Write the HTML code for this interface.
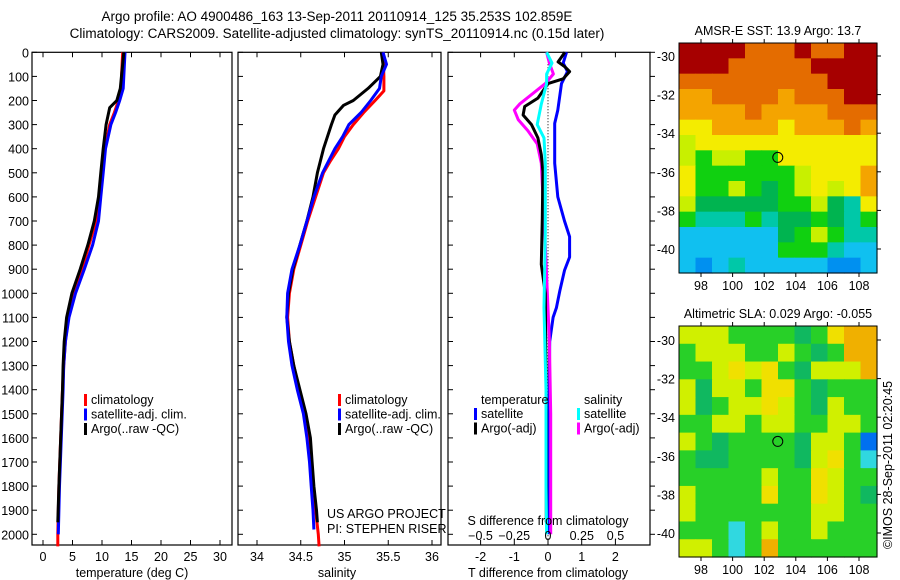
<!DOCTYPE html>
<html><head><meta charset="utf-8"><style>
body{margin:0;background:#fff}
svg{display:block;font-family:"Liberation Sans",sans-serif}
</style></head><body>
<svg id="fig" width="900" height="580" viewBox="0 0 900 580" xmlns="http://www.w3.org/2000/svg">
<text x="337" y="21" font-size="13.5" text-anchor="middle">Argo profile: AO 4900486_163 13-Sep-2011 20110914_125 35.253S 102.859E</text>
<text x="337" y="38" font-size="13.5" text-anchor="middle">Climatology: CARS2009. Satellite-adjusted climatology: synTS_20110914.nc (0.15d later)</text>
<g id="g"></g>
</svg>
<script>
// ---- data ----
const tArgoD=[0,150,200,230,300,400,500,600,700,800,900,1000,1100,1200,1300,1400,1600,1800,1950];
const tArgoV=[13.7,13.1,12.5,11.3,10.7,10.2,9.8,9.4,8.7,7.6,6.3,4.9,4.0,3.6,3.4,3.3,3.0,2.7,2.5];
const tClimD=[0,100,150,200,250,300,400,500,600,700,800,900,1000,1100,1200,1300,1400,1600,1800,2000,2050];
const tClimV=[13.5,13.3,13.4,12.8,12.1,11.3,10.5,10.0,9.6,9.0,7.8,6.6,5.2,4.3,3.8,3.5,3.3,3.0,2.7,2.5,2.5];
const tSatD=[0,100,150,200,250,300,400,500,600,700,800,900,1000,1100,1200,1300,1400,1600,1800,2000];
const tSatV=[13.9,13.7,13.6,13.0,12.3,11.5,10.6,10.2,9.8,9.4,8.4,7.0,5.5,4.4,3.8,3.5,3.4,3.1,2.8,2.6];
const sArgoD=[0,50,100,150,200,220,260,300,400,500,600,700,800,900,1000,1100,1200,1300,1400,1500,1600,1700,1800,1900,1950];
const sArgoV=[35.42,35.44,35.41,35.27,35.10,34.99,34.89,34.85,34.76,34.69,34.64,34.57,34.49,34.41,34.36,34.34,34.37,34.42,34.49,34.56,34.61,34.63,34.65,34.68,34.69];
const sClimD=[0,100,160,200,250,300,350,400,450,500,600,700,800,900,1000,1100,1200,1300,1400,1500,1600,1700,1800,1900,2000,2050];
const sClimV=[35.44,35.45,35.45,35.35,35.22,35.10,35.0,34.93,34.84,34.76,34.67,34.58,34.50,34.42,34.37,34.35,34.37,34.42,34.48,34.55,34.59,34.62,34.64,34.67,34.70,34.71];
const sSatD=[0,50,100,150,200,250,300,350,400,500,600,700,800,900,1000,1100,1200,1300,1400,1500,1600,1700,1800,1900,1980];
const sSatV=[35.44,35.48,35.42,35.40,35.30,35.19,35.05,34.98,34.89,34.75,34.65,34.57,34.49,34.40,34.35,34.34,34.36,34.40,34.46,34.53,34.57,34.60,34.62,34.64,34.65];
const dtSatD=[0,45,80,130,240,295,460,600,700,765,850,905,990,1060,1100,1200,1500,2000];
const dtSatV=[0.55,0.45,0.58,0.40,0.29,0.20,0.20,0.29,0.49,0.64,0.64,0.49,0.35,0.25,0.15,0.05,0.03,0.02];
const dtArgoD=[0,40,60,80,110,130,190,225,260,300,355,425,495,690,880,1000,1500,1950];
const dtArgoV=[0.5,0.3,0.5,0.64,0.45,0,-0.3,-0.69,-0.74,-0.49,-0.3,-0.2,-0.15,-0.17,-0.2,-0.08,-0.05,-0.05];
const dsArgoD=[0,45,90,130,170,215,240,280,325,380,460,800,1200,1500,2000];
const dsArgoV=[-0.01,0.01,0.04,-0.02,-0.11,-0.21,-0.25,-0.22,-0.15,-0.08,-0.05,-0.02,0.01,0.02,0.02];
const dsSatD=[0,45,90,130,215,300,355,460,750,1060,1400,1800,2000];
const dsSatV=[-0.01,0.03,-0.01,-0.01,-0.05,-0.08,-0.03,-0.02,-0.02,-0.03,-0.015,-0.015,-0.01];
const depthTicks=[0,100,200,300,400,500,600,700,800,900,1000,1100,1200,1300,1400,1500,1600,1700,1800,1900,2000];
const tTicks=[0,5,10,15,20,25,30];
const sTicks=[34,34.5,35,35.5,36];
const dtTicks=[-2,-1,0,1,2];
const dsTicks=[-0.5,-0.25,0,0.25,0.5];
const latTicks=[-30,-32,-34,-36,-38,-40];
const lonTicks=[98,100,102,104,106,108];
const sstGrid=["RRRROOOROORRRR".slice(0,12),"RRROOOOORRRR","OOOOOOOOORRR","ooOOOOoOOORR","ooooOooooOOO","YYooooYoooOo","yYYYYYYYYYYY","yGyyGGYYYYYY","YGGGGGGyYYYo","YGGyGgGyYyYo","ygggggGGygTY","GTTTGTggGgTG","CCCCCCgGyGTT","CCCCCCGGGTCC","CBCTCCCCCBBC"];
const slaGrid=["yyyGGGGgGYOO","GyyyGGyGgGOO","GGyYyYGgyyyO","ygyyGYYGgGGG","ygGyyYyGgyGG","GGyyGyyGGyyG","yGgGGGGgyyGB","GggGGGGgyYGC","GGGGGyGGYyGG","yGGGGYGGYyGg","yGGGGGGGyyGG","GGGCGyGGyGGG","yyGCGOGGGGGG"];
const profLon=102.859, profLat=-35.253;

// ---- drawing ----
const NS="http://www.w3.org/2000/svg";
const G=document.getElementById('g');
function mk(tag,attrs,parent){const e=document.createElementNS(NS,tag);for(const k in attrs)e.setAttribute(k,attrs[k]);(parent||G).appendChild(e);return e;}
function txt(x,y,s,size,anchor,parent){const e=mk('text',{x:x,y:y,'font-size':size||12.5,'text-anchor':anchor||'start'},parent);e.textContent=s;return e;}
const Y0=52.3, YK=0.241, BOT=545;
const yD=d=>Y0+YK*d;
const xT=v=>43+5.9*v, xS=v=>257+87.5*(v-34), xDT=v=>548+33.7*v, xDS=v=>548+135*v;

function panel(name,x0,x1,ticks,fx,labels){
  const g=mk('g',{});
  
  
  mk('rect',{x:x0,y:Y0,width:x1-x0,height:BOT-Y0,fill:'none',stroke:'#000','stroke-width':1.2},g);
  depthTicks.forEach(d=>{mk('line',{x1:x0,x2:x0+5,y1:yD(d),y2:yD(d),stroke:'#000'},g);});
  if(ticks)ticks.forEach(v=>{const x=fx(v);mk('line',{x1:x,x2:x,y1:Y0,y2:Y0+5,stroke:'#000'},g);mk('line',{x1:x,x2:x,y1:BOT,y2:BOT-5,stroke:'#000'},g);if(labels)txt(x,561,String(v),12.5,'middle',g);});
  return g;
}
function series(name,D,V,fx,color,w,parent){
  const p=mk('polyline',{points:D.map((d,i)=>fx(V[i]).toFixed(1)+','+yD(d).toFixed(1)).join(' '),fill:'none',stroke:color,'stroke-width':w,'stroke-linejoin':'round'},parent);
  
  
}
// y tick labels
depthTicks.forEach(d=>{const t=txt(29,yD(d)+5,String(d),12.5,'end');});

const p1=panel('temperature-panel',32,232,tTicks,xT,true);
series('temperature-climatology',tClimD,tClimV,xT,'#f00',3,p1);
series('temperature-satellite',tSatD,tSatV,xT,'#00f',3,p1);
series('temperature-argo',tArgoD,tArgoV,xT,'#000',3,p1);
txt(132,577,'temperature (deg C)',12.5,'middle',p1);

const p2=panel('salinity-panel',238,441,sTicks,xS,true);
series('salinity-climatology',sClimD,sClimV,xS,'#f00',3,p2);
series('salinity-argo',sArgoD,sArgoV,xS,'#000',3,p2);
series('salinity-satellite',sSatD,sSatV,xS,'#00f',3,p2);
txt(337,577,'salinity',12.5,'middle',p2);
txt(327,518,'US ARGO PROJECT',12.5,'start',p2);
txt(327,533,'PI: STEPHEN RISER',12.5,'start',p2);

const p3=panel('difference-panel',448,650,dtTicks,xDT,true);
depthTicks.forEach(d=>{mk('line',{x1:650,x2:655,y1:yD(d),y2:yD(d),stroke:'#000'},p3);});
mk('line',{x1:548,x2:548,y1:Y0,y2:BOT,stroke:'#000','stroke-dasharray':'1,2'},p3);
series('dT-satellite',dtSatD,dtSatV,xDT,'#00f',3,p3);
series('dS-argo',dsArgoD,dsArgoV,xDS,'#f0f',3,p3);
series('dT-argo',dtArgoD,dtArgoV,xDT,'#000',3,p3);
series('dS-satellite',dsSatD,dsSatV,xDS,'#0ff',3,p3);
txt(548,577,'T difference from climatology',12.5,'middle',p3);
txt(548,525,'S difference from climatology',12.5,'middle',p3);
dsTicks.forEach(v=>txt(xDS(v),540,String(v).replace('-','−'),12.5,'middle',p3));

function legend(x,y,items,name){
  const g=mk('g',{});
  
  
  items.forEach((it,i)=>{if(it[0])mk('rect',{x:x,y:y+i*14.5-10,width:3,height:12,fill:it[0]},g);txt(x+(it[0]?7:0),y+i*14.5,it[1],12.5,'start',g);});
}
legend(84,404,[['#f00','climatology'],['#00f','satellite-adj. clim.'],['#000','Argo(..raw -QC)']],'temperature-legend');
legend(338,404,[['#f00','climatology'],['#00f','satellite-adj. clim.'],['#000','Argo(..raw -QC)']],'salinity-legend');
legend(474,418,[['#00f','satellite'],['#000','Argo(-adj)']],'dT-legend');
txt(481,404,'temperature',12.5,'start');
legend(577,418,[['#0ff','satellite'],['#f0f','Argo(-adj)']],'dS-legend');
txt(584,404,'salinity',12.5,'start');

// maps
const sstCol={R:'#a60000',O:'#e46c00',o:'#f4a400',Y:'#f4ec00',y:'#c8f000',G:'#10d010',g:'#00b450',T:'#00c8a8',C:'#10c0f0',B:'#0090f0'};
const slaCol={R:'#c04000',O:'#f0b000',Y:'#f0e000',y:'#d0f000',G:'#28d028',g:'#10b860',T:'#00c8a8',C:'#30d8e0',B:'#0070f0'};
function map(name,x0,x1,y0,y1,grid,cols,latY30,title){
  const g=mk('g',{});
  
  
  const nr=grid.length,nc=grid[0].length,cw=(x1-x0)/nc,ch=(y1-y0)/nr;
  grid.forEach((row,r)=>{for(let c=0;c<nc;c++)mk('rect',{x:x0+c*cw,y:y0+r*ch,width:cw+0.6,height:ch+0.6,fill:cols[row[c]]||'#10d010'},g);});
  mk('rect',{x:x0,y:y0,width:x1-x0,height:y1-y0,fill:'none',stroke:'#000'},g);
  const lx=v=>701+(v-98)*15.8, ly=v=>latY30+(-30-v)*19.3;
  latTicks.forEach(v=>{mk('line',{x1:x1,x2:x1+4,y1:ly(v),y2:ly(v),stroke:'#000'},g);txt(x0-4,ly(v)+5,String(v),12.5,'end',g);});
  lonTicks.forEach(v=>{mk('line',{x1:lx(v),x2:lx(v),y1:y1,y2:y1+4,stroke:'#000'},g);mk('line',{x1:lx(v),x2:lx(v),y1:y0,y2:y0-4,stroke:'#000'},g);txt(lx(v),y1+17,String(v),12.5,'middle',g);});
  const c=mk('circle',{cx:lx(profLon),cy:ly(profLat),r:5,fill:'none',stroke:'#000'},g);
  
  
  txt((x0+x1)/2,y0-8,title,12.5,'middle',g);
}
map('sst-map',679,877,43,273,sstGrid,sstCol,56,'AMSR-E SST: 13.9 Argo: 13.7');
map('sla-map',679,877,326,557,slaGrid,slaCol,340,'Altimetric SLA: 0.029 Argo: -0.055');
const cr=txt(0,0,'©IMOS 28-Sep-2011 02:20:45',12.5,'middle');
cr.setAttribute('transform','translate(892,465) rotate(-90)');


</script>
</body></html>
